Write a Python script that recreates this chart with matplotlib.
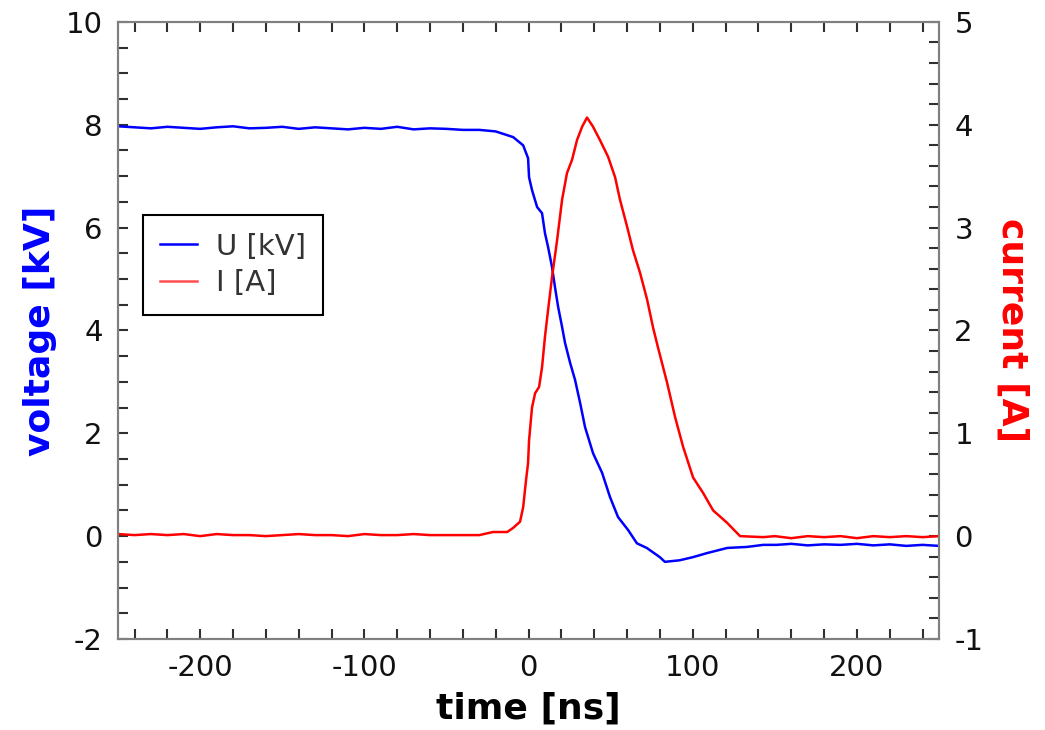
import matplotlib
matplotlib.use("Agg")
import matplotlib.pyplot as plt
from matplotlib.ticker import MultipleLocator

plt.rcParams["axes.unicode_minus"] = False

# ── data ─────────────────────────────────────────────────────
t_u = [-250, -240, -230, -220, -210, -200, -190, -180, -170, -160, -150,
       -140, -130, -120, -110, -100, -90, -80, -70, -60, -50, -40, -30,
       -20, -9.4, -3.3, -0.3, 0.3, 2.1, 5.2, 8.2, 10, 11.9, 14.3, 16.1,
       18, 20.4, 22.2, 25.3, 28.3, 31.4, 34.4, 39.3, 44.8, 49.6, 54.5,
       60.6, 66, 72, 80, 83, 92, 100, 108.7, 121, 133, 143, 151,
       160, 170, 180, 190, 200, 210, 220, 230, 240, 250]
u_kv = [7.97, 7.95, 7.93, 7.96, 7.94, 7.92, 7.95, 7.97, 7.93, 7.94, 7.96,
        7.92, 7.95, 7.93, 7.91, 7.94, 7.92, 7.96, 7.91, 7.93, 7.92, 7.90,
        7.90, 7.87, 7.76, 7.60, 7.35, 6.98, 6.73, 6.40, 6.28, 5.89, 5.62,
        5.23, 4.84, 4.46, 4.07, 3.76, 3.37, 3.04, 2.59, 2.12, 1.61, 1.23,
        0.76, 0.37, 0.12, -0.14, -0.23, -0.41, -0.50, -0.47, -0.41, -0.33,
        -0.23, -0.21, -0.17, -0.17, -0.15, -0.18, -0.16, -0.17, -0.15,
        -0.18, -0.16, -0.19, -0.17, -0.19]

t_i = [-250, -240, -230, -220, -210, -200, -190, -180, -170, -160, -150,
       -140, -130, -120, -110, -100, -90, -80, -70, -60, -50, -40, -30,
       -21.6, -13, -9.4, -5.2, -3.3, -1.5, -0.3, 0.3, 2.1, 4, 6.4, 8.2,
       10, 11.9, 14.3, 17.4, 20.4, 23.4, 26.5, 29.5, 32.6, 35.6, 39.3,
       43.5, 48.4, 52.7, 55.7, 60, 63.6, 67.9, 72.2, 75.8, 78.9, 84.4,
       89.2, 94.1, 100.2, 106.3, 112.4, 120.9, 128.8, 143,
       150, 160, 170, 180, 190, 200, 210, 220, 230, 240, 250]
i_a = [0.02, 0.01, 0.02, 0.01, 0.02, 0.00, 0.02, 0.01, 0.01, 0.00, 0.01,
       0.02, 0.01, 0.01, 0.00, 0.02, 0.01, 0.01, 0.02, 0.01, 0.01, 0.01,
       0.01, 0.04, 0.04, 0.08, 0.14, 0.28, 0.55, 0.71, 0.93, 1.25, 1.39,
       1.45, 1.64, 1.94, 2.20, 2.52, 2.88, 3.27, 3.53, 3.66, 3.85, 3.98,
       4.07, 3.98, 3.85, 3.69, 3.49, 3.27, 3.01, 2.78, 2.56, 2.30, 2.03,
       1.83, 1.49, 1.16, 0.87, 0.57, 0.42, 0.25, 0.13, 0.00, -0.01,
       0.00, -0.02, 0.00, -0.01, 0.00, -0.02, 0.00, -0.01, 0.00, -0.01, 0.00]

# ── figure ───────────────────────────────────────────────────
spine_col = "#808080"
tick_col = "#303030"

fig = plt.figure(figsize=(10.45, 7.3), dpi=100)
ax = fig.add_axes([0.113, 0.1247, 0.7856, 0.8453])
ax2 = ax.twinx()

l1, = ax.plot(t_u, u_kv, color="#0000ff", lw=1.8, label="U [kV]")
l2, = ax2.plot(t_i, i_a, color="#ff0000", lw=1.8, label="I [A]")

ax.set_xlim(-250, 250)
ax.set_ylim(-2, 10)
ax2.set_ylim(-1, 5)

ax.xaxis.set_major_locator(MultipleLocator(100))
ax.xaxis.set_minor_locator(MultipleLocator(20))
ax.yaxis.set_major_locator(MultipleLocator(2))
ax.yaxis.set_minor_locator(MultipleLocator(0.5))
ax2.yaxis.set_major_locator(MultipleLocator(1))
ax2.yaxis.set_minor_locator(MultipleLocator(0.2))

for a in (ax, ax2):
    for s in a.spines.values():
        s.set_color(spine_col)
        s.set_linewidth(1.5)
    a.tick_params(which="both", direction="in", length=7.5, width=1.5,
                  color=tick_col, labelsize=21, pad=11, labelcolor="#111111")

ax.tick_params(which="both", top=True, right=False)
ax2.tick_params(which="both", left=False, right=True)

ax.set_xlabel("time [ns]", fontsize=26, fontweight="bold", labelpad=7)
ax.set_ylabel("voltage [kV]", fontsize=26, fontweight="bold", color="#0000ff",
              labelpad=6)
ax2.set_ylabel("current [A]", fontsize=26, fontweight="bold", color="#ff0000",
               rotation=270, labelpad=33)

leg = ax.legend([l1, l2], ["U [kV]", "I [A]"], loc="upper left",
                bbox_to_anchor=(0.03, 0.687), fontsize=21, frameon=True,
                fancybox=False, framealpha=1, edgecolor="black",
                handlelength=1.25, handletextpad=0.65, labelspacing=0.3,
                borderpad=0.6, borderaxespad=0)
leg.get_frame().set_linewidth(1.5)
leg.get_lines()[1].set_color("#ff5050")
for txt in leg.get_texts():
    txt.set_color("#333333")

fig.savefig("out.png", dpi=100)
